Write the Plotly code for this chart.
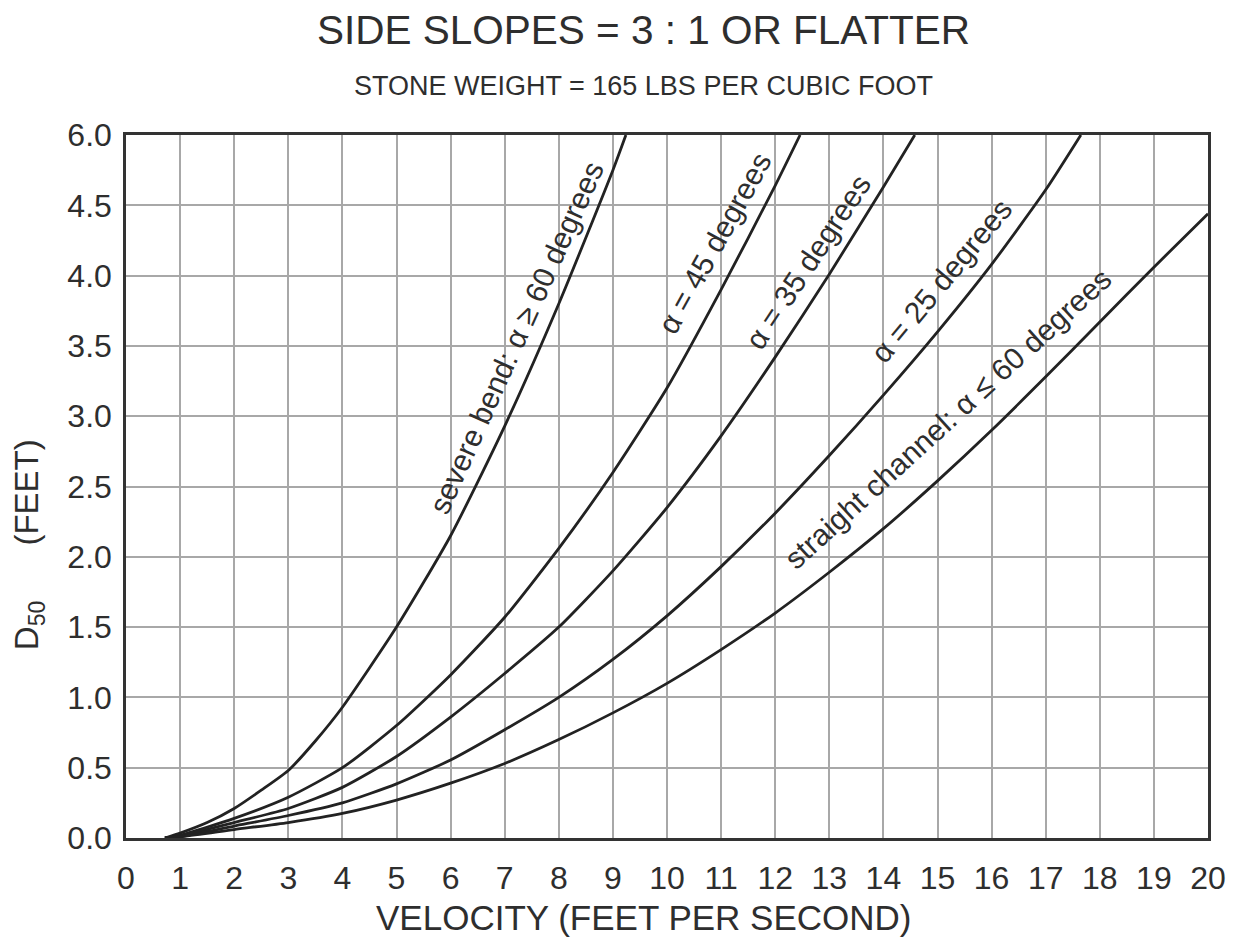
import plotly.graph_objects as go

# ---------------- data ----------------
# velocity (ft/s) vs D50 (ft), axis units (top gridline = 5.0, labelled "6.0")
severe_x = [0.72, 1, 1.5, 2, 2.5, 3, 3.5, 4, 5, 6, 7, 8, 9, 9.24]
severe_y = [0, 0.035, 0.11, 0.21, 0.34, 0.48, 0.69, 0.93, 1.5, 2.15, 2.93, 3.8, 4.75, 5.0]

a45_x = [0.72, 1, 2, 3, 4, 5, 6, 7, 8, 9, 10, 11, 12, 12.46]
a45_y = [0, 0.02, 0.14, 0.29, 0.5, 0.8, 1.16, 1.57, 2.06, 2.6, 3.2, 3.9, 4.64, 5.0]

a35_x = [0.72, 1, 2, 3, 4, 5, 6, 7, 8, 9, 10, 11, 12, 13, 14, 14.58]
a35_y = [0, 0.015, 0.11, 0.21, 0.36, 0.58, 0.86, 1.17, 1.5, 1.9, 2.35, 2.86, 3.42, 4.01, 4.63, 5.0]

a25_x = [0.72, 1, 2, 3, 4, 5, 6, 7, 8, 9, 10, 11, 12, 13, 14, 15, 16, 17, 17.65]
a25_y = [0, 0.01, 0.085, 0.16, 0.25, 0.385, 0.555, 0.77, 1.0, 1.27, 1.58, 1.93,
         2.31, 2.72, 3.15, 3.6, 4.08, 4.61, 5.0]

straight_x = [0.72, 1, 2, 3, 4, 5, 6, 7, 8, 9, 10, 11, 12, 13, 14, 15, 16, 17, 18, 19, 20]
straight_y = [0, 0.008, 0.06, 0.11, 0.175, 0.27, 0.39, 0.53, 0.7, 0.89, 1.1, 1.34,
              1.6, 1.89, 2.2, 2.54, 2.9, 3.28, 3.67, 4.06, 4.44]

x_tick_values = list(range(0, 21))
x_tick_labels = [str(v) for v in x_tick_values]
y_tick_values = [0, 0.5, 1.0, 1.5, 2.0, 2.5, 3.0, 3.5, 4.0, 4.5, 5.0]
y_tick_labels = ["0.0", "0.5", "1.0", "1.5", "2.0", "2.5", "3.0", "3.5", "4.0", "4.5", "6.0"]

curve_labels = ["severe bend: α ≥ 60 degrees", "α = 45 degrees", "α = 35 degrees",
                "α = 25 degrees", "straight channel: α ≤ 60 degrees"]
label_x = [7.215, 10.89, 12.61, 15.07, 15.19]
label_y = [3.56, 4.232, 4.10, 3.968, 2.986]
label_angle = [-65.7, -61, -56.6, -50.3, -42.3]

title_text = "SIDE SLOPES = 3 : 1 OR FLATTER"
subtitle_text = "STONE WEIGHT = 165 LBS PER CUBIC FOOT"
x_title = "VELOCITY (FEET PER SECOND)"
y_title = "D<sub>50</sub>" + "\u00a0" * 6 + "(FEET)"

# ---------------- figure ----------------
FONT = "Liberation Sans, Arial, Helvetica, sans-serif"
INK = "#2e2e2e"

fig = go.Figure()
series = [(severe_x, severe_y), (a45_x, a45_y), (a35_x, a35_y), (a25_x, a25_y),
          (straight_x, straight_y)]
for (xs, ys), name in zip(series, curve_labels):
    fig.add_trace(go.Scatter(x=xs, y=ys, mode="lines", name=name,
                             line=dict(color="#222222", width=2.8, shape="spline", smoothing=0.6),
                             showlegend=False, hoverinfo="x+y"))

for t, xx, yy, ang in zip(curve_labels, label_x, label_y, label_angle):
    fig.add_annotation(x=xx, y=yy, xref="x", yref="y", text=t, textangle=ang,
                       showarrow=False, xanchor="center", yanchor="middle",
                       font=dict(family=FONT, size=30, color=INK))

fig.add_annotation(x=0.4787, y=1.149, xref="paper", yref="paper", text=title_text,
                   showarrow=False, xanchor="center", yanchor="middle",
                   font=dict(family=FONT, size=40.5, color=INK))
fig.add_annotation(x=0.4787, y=1.0697, xref="paper", yref="paper", text=subtitle_text,
                   showarrow=False, xanchor="center", yanchor="middle",
                   font=dict(family=FONT, size=27, color=INK))
fig.add_annotation(x=0.4787, y=-0.1125, xref="paper", yref="paper", text=x_title,
                   showarrow=False, xanchor="center", yanchor="middle",
                   font=dict(family=FONT, size=35, color=INK))
fig.add_annotation(x=-0.0895, y=0.4168, xref="paper", yref="paper", text=y_title,
                   textangle=-90, showarrow=False, xanchor="center", yanchor="middle",
                   font=dict(family=FONT, size=33, color=INK))

axis_common = dict(showline=True, linecolor="#333333", linewidth=2.5, mirror=True,
                   showgrid=True, gridcolor="#a8a8a8", gridwidth=2, zeroline=False,
                   ticks="outside", tickcolor="rgba(0,0,0,0)",
                   tickfont=dict(family=FONT, size=32, color=INK))

fig.update_xaxes(range=[0, 20], tickmode="array", tickvals=x_tick_values,
                 ticktext=x_tick_labels, ticklen=10, **axis_common)
fig.update_yaxes(range=[0, 5], tickmode="array", tickvals=y_tick_values,
                 ticktext=y_tick_labels, ticklen=5, **axis_common)

# the page body adds an 8 px offset; size the figure so the plot box lands as in the reference
fig.update_layout(width=1232, height=933, margin=dict(l=118, r=32, t=127, b=103),
                  paper_bgcolor="white", plot_bgcolor="white",
                  font=dict(family=FONT, color=INK))

fig.write_html("out.html")
